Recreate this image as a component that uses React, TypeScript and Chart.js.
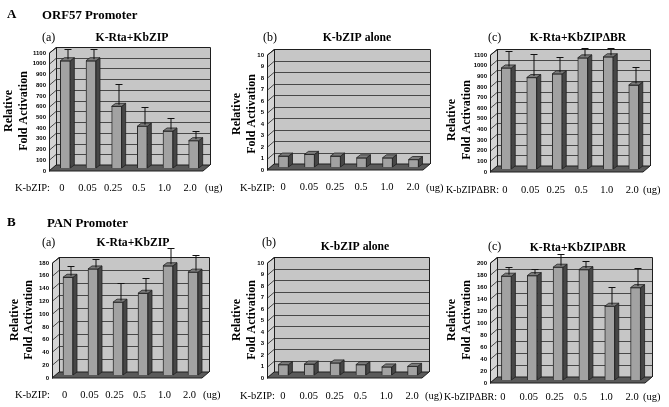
import React, { useEffect, useRef } from "react";
import { Chart, registerables } from "chart.js";
Chart.register(...registerables);

// ---------------- data ----------------
const doseLabels = ["0", "0.05", "0.25", "0.5", "1.0", "2.0"];

// ORF57 promoter
const orf57RtaKbzip = [1000, 1000, 575, 390, 345, 255];
const orf57RtaKbzipErr = [100, 100, 195, 165, 110, 75];
const orf57KbzipAlone = [0.95, 1.1, 0.95, 0.8, 0.8, 0.65];
const orf57KbzipAloneErr = [0, 0, 0, 0, 0, 0];
const orf57RtaKbzipDBR = [950, 860, 895, 1045, 1055, 790];
const orf57RtaKbzipDBRErr = [145, 205, 140, 80, 70, 155];

// PAN promoter
const panRtaKbzip = [153, 166, 114, 128, 171, 161];
const panRtaKbzipErr = [16, 13, 27, 21, 25, 24];
const panKbzipAlone = [0.9, 0.95, 1.05, 0.9, 0.7, 0.75];
const panKbzipAloneErr = [0, 0, 0, 0, 0, 0];
const panRtaKbzipDBR = [173, 174, 188, 184, 123, 154];
const panRtaKbzipDBRErr = [13, 9, 20, 12, 29, 30];

// axis ranges
const axisMax = [1100, 10, 1100, 180, 10, 200];
const axisStep = [100, 1, 100, 20, 1, 20];

// ---------------- layout / style ----------------
const W = 669;
const H = 407;
const SERIF = '"Liberation Serif", "Times New Roman", serif';
const SANS = '"Liberation Sans", Arial, sans-serif';
const DX = 7;
const DY = 6;
const BX = 4;
const BY = 3;

type Layout = {
  L: number; R: number; top: number; y0: number;
  labelPad: number; labelShift: number;
  letter?: string; letterY?: number; header?: string; headerX?: number;
  tag: string; tagX: number; tagY: number;
  title: string; titleX: number; titleY: number;
  yt1X: number; yt2X: number; ytY: number;
  prefix: string; prefixRight: number; prefixSize: number; suffixX: number; rowY: number;
};

const layouts: Layout[] = [
  { L: 49, R: 203, top: 53, y0: 171, labelPad: 11, labelShift: 0, letter: "A", letterY: 15, header: "ORF57 Promoter", headerX: 42,
    tag: "(a)", tagX: 42, tagY: 38, title: "K-Rta+KbZIP", titleX: 132, titleY: 38,
    yt1X: 9, yt2X: 24, ytY: 111, prefix: "K-bZIP:", prefixRight: 50, prefixSize: 10.5, suffixX: 205, rowY: 188 },
  { L: 267, R: 423, top: 55, y0: 170, labelPad: 11, labelShift: 3,
    tag: "(b)", tagX: 263, tagY: 38, title: "K-bZIP alone", titleX: 357, titleY: 38,
    yt1X: 237, yt2X: 252, ytY: 114, prefix: "K-bZIP:", prefixRight: 275, prefixSize: 10.5, suffixX: 426, rowY: 188 },
  { L: 490, R: 643, top: 55, y0: 172, labelPad: 12, labelShift: 2,
    tag: "(c)", tagX: 488, tagY: 38, title: "K-Rta+KbZIPΔBR", titleX: 578, titleY: 38,
    yt1X: 452, yt2X: 467, ytY: 120, prefix: "K-bZIPΔBR:", prefixRight: 499, prefixSize: 10, suffixX: 643, rowY: 190 },
  { L: 52, R: 202, top: 263, y0: 378, labelPad: 11, labelShift: 0, letter: "B", letterY: 223, header: "PAN Promoter", headerX: 47,
    tag: "(a)", tagX: 42, tagY: 243, title: "K-Rta+KbZIP", titleX: 133, titleY: 243,
    yt1X: 15, yt2X: 29, ytY: 320, prefix: "K-bZIP:", prefixRight: 50, prefixSize: 10.5, suffixX: 203, rowY: 395 },
  { L: 267, R: 422, top: 263, y0: 378, labelPad: 12, labelShift: 3,
    tag: "(b)", tagX: 262, tagY: 243, title: "K-bZIP alone", titleX: 355, titleY: 247,
    yt1X: 237, yt2X: 252, ytY: 320, prefix: "K-bZIP:", prefixRight: 275, prefixSize: 10.5, suffixX: 425, rowY: 396 },
  { L: 490, R: 645, top: 263, y0: 383, labelPad: 8, labelShift: 0,
    tag: "(c)", tagX: 488, tagY: 247, title: "K-Rta+KbZIPΔBR", titleX: 578, titleY: 248,
    yt1X: 452, yt2X: 467, ytY: 320, prefix: "K-bZIPΔBR:", prefixRight: 497, prefixSize: 10, suffixX: 643, rowY: 397 },
];

const panelValues = [orf57RtaKbzip, orf57KbzipAlone, orf57RtaKbzipDBR, panRtaKbzip, panKbzipAlone, panRtaKbzipDBR];
const panelErrors = [orf57RtaKbzipErr, orf57KbzipAloneErr, orf57RtaKbzipDBRErr, panRtaKbzipErr, panKbzipAloneErr, panRtaKbzipDBRErr];

function poly(ctx: CanvasRenderingContext2D, pts: number[][]) {
  ctx.beginPath();
  ctx.moveTo(pts[0][0], pts[0][1]);
  for (let i = 1; i < pts.length; i++) ctx.lineTo(pts[i][0], pts[i][1]);
  ctx.closePath();
}

function makePlugin(lay: Layout, values: number[], errs: number[]) {
  return {
    id: "threeD",
    beforeDatasetsDraw(chart: any) {
      const ctx: CanvasRenderingContext2D = chart.ctx;
      const { left, right, top, bottom } = chart.chartArea;
      const ys = chart.scales.y;
      ctx.save();
      // side wall
      ctx.fillStyle = "#d4d4d4";
      poly(ctx, [[left, top], [left + DX, top - DY], [left + DX, bottom - DY], [left, bottom]]);
      ctx.fill();
      // back wall
      ctx.fillStyle = "#c6c6c6";
      ctx.fillRect(left + DX, top - DY, right - left, bottom - top);
      // gridlines
      ctx.strokeStyle = "#484848";
      ctx.lineWidth = 1;
      ys.ticks.forEach((t: any) => {
        const yy = Math.round(ys.getPixelForValue(t.value)) + 0.5;
        ctx.beginPath();
        ctx.moveTo(left, yy);
        ctx.lineTo(left + DX, yy - DY);
        ctx.lineTo(right + DX, yy - DY);
        ctx.stroke();
      });
      // outline
      ctx.strokeStyle = "#1e1e1e";
      ctx.beginPath();
      ctx.moveTo(left + 0.5, bottom);
      ctx.lineTo(left + 0.5, top);
      ctx.lineTo(left + DX + 0.5, top - DY + 0.5);
      ctx.lineTo(right + DX + 0.5, top - DY + 0.5);
      ctx.lineTo(right + DX + 0.5, bottom - DY);
      ctx.stroke();
      ctx.beginPath();
      ctx.moveTo(left + DX + 0.5, top - DY);
      ctx.lineTo(left + DX + 0.5, bottom - DY);
      ctx.stroke();
      // floor
      ctx.fillStyle = "#5a5a5a";
      poly(ctx, [[left, bottom], [right, bottom], [right + DX, bottom - DY], [left + DX, bottom - DY]]);
      ctx.fill();
      ctx.stroke();
      ctx.restore();
      // bars sit at mid depth
      ctx.save();
      ctx.translate(DX / 2, -DY / 2);
    },
    afterDatasetsDraw(chart: any) {
      const ctx: CanvasRenderingContext2D = chart.ctx;
      const ys = chart.scales.y;
      const meta = chart.getDatasetMeta(0);
      meta.data.forEach((bar: any, i: number) => {
        const { x, y, base, width } = bar.getProps(["x", "y", "base", "width"], true);
        const xl = x - width / 2;
        const xr = x + width / 2;
        ctx.strokeStyle = "#222";
        ctx.lineWidth = 0.8;
        ctx.fillStyle = "#464646";
        poly(ctx, [[xr, y], [xr + BX, y - BY], [xr + BX, base - BY], [xr, base]]);
        ctx.fill();
        ctx.stroke();
        ctx.fillStyle = "#7c7c7c";
        poly(ctx, [[xl, y], [xr, y], [xr + BX, y - BY], [xl + BX, y - BY]]);
        ctx.fill();
        ctx.stroke();
        const e = errs[i];
        if (e > 0) {
          const xc = Math.round(x + BX / 2) + 0.5;
          const ye = Math.round(ys.getPixelForValue(values[i] + e) - BY / 2) + 0.5;
          ctx.strokeStyle = "#111";
          ctx.lineWidth = 1;
          ctx.beginPath();
          ctx.moveTo(xc, y - BY / 2);
          ctx.lineTo(xc, ye);
          ctx.moveTo(xc - 3.5, ye);
          ctx.lineTo(xc + 3.5, ye);
          ctx.stroke();
        }
      });
      ctx.restore();
    },
    afterDraw(chart: any) {
      const ctx: CanvasRenderingContext2D = chart.ctx;
      ctx.save();
      ctx.fillStyle = "#000";
      ctx.textBaseline = "middle";
      if (lay.letter) {
        ctx.font = `bold 13px ${SERIF}`;
        ctx.textAlign = "left";
        ctx.fillText(lay.letter, 7, lay.letterY!);
        ctx.font = `bold 12.8px ${SERIF}`;
        ctx.fillText(lay.header!, lay.headerX!, lay.letterY! + 0.5);
      }
      ctx.font = `12px ${SERIF}`;
      ctx.textAlign = "left";
      ctx.fillText(lay.tag, lay.tagX, lay.tagY);
      ctx.font = `bold 11.7px ${SERIF}`;
      ctx.textAlign = "center";
      ctx.fillText(lay.title, lay.titleX, lay.titleY);
      // y title
      ctx.font = `bold 12px ${SERIF}`;
      ctx.save();
      ctx.translate(lay.yt1X, lay.ytY);
      ctx.rotate(-Math.PI / 2);
      ctx.fillText("Relative", 0, 0);
      ctx.restore();
      ctx.save();
      ctx.translate(lay.yt2X, lay.ytY);
      ctx.rotate(-Math.PI / 2);
      ctx.fillText("Fold Activation", 0, 0);
      ctx.restore();
      // row prefix / suffix
      ctx.font = `${lay.prefixSize}px ${SERIF}`;
      ctx.textAlign = "right";
      ctx.fillText(lay.prefix, lay.prefixRight, lay.rowY);
      ctx.font = `10.5px ${SERIF}`;
      ctx.textAlign = "left";
      ctx.fillText("(ug)", lay.suffixX, lay.rowY);
      ctx.restore();
    },
  };
}

function Panel({ idx }: { idx: number }) {
  const ref = useRef<HTMLCanvasElement>(null);
  useEffect(() => {
    const lay = layouts[idx];
    const values = panelValues[idx];
    const errs = panelErrors[idx];
    const yAxisW = 30;
    const xAxisH = 30;
    const chart = new Chart(ref.current as HTMLCanvasElement, {
      type: "bar",
      data: {
        labels: doseLabels,
        datasets: [
          {
            data: values,
            backgroundColor: "#a2a2a2",
            borderColor: "#2a2a2a",
            borderWidth: 1,
            barThickness: 10,
          },
        ],
      },
      options: {
        responsive: false,
        animation: false,
        devicePixelRatio: 1,
        events: [],
        layout: {
          padding: {
            left: lay.L - yAxisW,
            right: W - lay.R,
            top: lay.top,
            bottom: H - lay.y0 - xAxisH,
          },
        },
        plugins: { legend: { display: false }, tooltip: { enabled: false }, title: { display: false } },
        scales: {
          x: {
            grid: { display: false, drawTicks: false },
            border: { display: false },
            ticks: {
              color: "#000",
              font: { family: SERIF, size: 10.5 },
              padding: lay.labelPad,
              labelOffset: lay.labelShift,
              maxRotation: 0,
              autoSkip: false,
            },
            afterFit: (s: any) => { s.height = xAxisH; },
          },
          y: {
            min: 0,
            max: axisMax[idx],
            grid: { display: false, drawTicks: false },
            border: { display: false },
            ticks: {
              stepSize: axisStep[idx],
              autoSkip: false,
              color: "#000",
              font: { family: SANS, size: 6, weight: "bold" },
              padding: 3,
              callback: (v: any) => String(v),
            },
            afterFit: (s: any) => { s.width = yAxisW; },
          },
        },
      },
      plugins: [makePlugin(lay, values, errs)],
    } as any);
    return () => chart.destroy();
  }, [idx]);
  return (
    <canvas
      ref={ref}
      width={W}
      height={H}
      style={{ position: "absolute", left: 0, top: 0, width: W, height: H }}
    />
  );
}

export default function App() {
  return (
    <div style={{ position: "absolute", left: 0, top: 0, width: W, height: H, background: "#fff", overflow: "hidden" }}>
      {layouts.map((_, i) => (
        <Panel key={i} idx={i} />
      ))}
    </div>
  );
}
